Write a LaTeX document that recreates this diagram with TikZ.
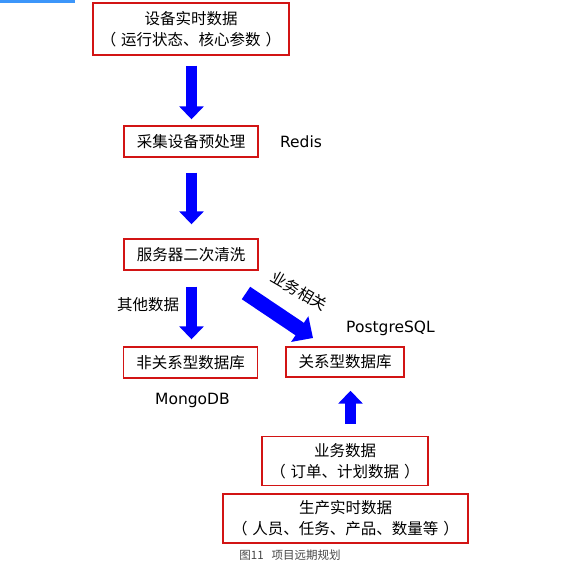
\documentclass[tikz,border=0pt]{standalone}
\usepackage{fontspec}
\setmainfont{Noto Sans CJK SC}
\newfontfamily\latinfont{DejaVu Sans}
\usetikzlibrary{arrows.meta,calc}
\definecolor{boxred}{RGB}{210,20,20}
\definecolor{topblue}{RGB}{60,150,250}
\definecolor{capgray}{RGB}{70,70,70}
\newcommand{\lpar}{（\hspace{5pt}}
\newcommand{\rpar}{\hspace{5pt}）}
\begin{document}
\begin{tikzpicture}[x=1pt,y=-1pt,
  box/.style={draw=boxred,line width=1.4pt,inner sep=0pt,align=center,
    font=\fontsize{15.5}{21}\selectfont},
  lbl/.style={inner sep=0pt,font=\fontsize{15.5}{18}\selectfont},
  latlbl/.style={inner sep=0pt,font=\fontsize{15.5}{18}\selectfont\latinfont},
  blockarrow/.style={draw=blue,line width=11pt,-{Triangle[width=24pt,length=13pt]}},
  bigarrow/.style={draw=blue,line width=15pt,-{Triangle[width=30pt,length=16pt]}}]
\useasboundingbox (0,0) rectangle (568,563);
\fill[topblue] (0,0) rectangle (75,3);
\node[box,minimum width=196pt,minimum height=52pt] (b1) at (191,29) {设备实时数据\\\lpar 运行状态、核心参数\rpar};
\node[box,minimum width=134pt,minimum height=31pt] (b2) at (191,141.5) {采集设备预处理};
\node[box,minimum width=134pt,minimum height=31pt] (b3) at (191,254.5) {服务器二次清洗};
\node[box,minimum width=134pt,minimum height=31pt] (b4) at (190.5,362.5) {非关系型数据库};
\node[box,minimum width=118pt,minimum height=30pt] (b5) at (345,362) {关系型数据库};
\node[box,minimum width=166pt,minimum height=49pt] (b6) at (345,461) {业务数据\\\lpar 订单、计划数据\rpar};
\node[box,minimum width=245pt,minimum height=49pt] (b7) at (345.5,518.5) {生产实时数据\\\lpar 人员、任务、产品、数量等\rpar};
\node[latlbl] (redis) at (301,142) {Redis};
\node[lbl] (other) at (148,305) {其他数据};
\node[lbl,rotate=-30] (biz) at (299,291) {业务相关};
\node[latlbl] (pg) at (390.5,328) {PostgreSQL};
\node[latlbl] (mongo) at (192.5,400) {MongoDB};
\node[inner sep=0pt,text=capgray,font=\fontsize{11.5}{13}\selectfont] (cap) at (290,555) {图11\hspace{8pt}项目远期规划};
\draw[blockarrow] ($(b1.south)+(0.5,10)$) -- ($(b2.north)+(0.5,-6)$);
\draw[blockarrow] ($(b2.south)+(0.5,15)$) -- ($(b3.north)+(0.5,-14)$);
\draw[blockarrow] ($(b3.south)+(0.5,16)$) -- ($(b4.north)+(1,-7)$);
\draw[blockarrow] ($(b6.north)+(5.5,-12)$) -- ($(b5.south)+(5.5,13)$);
\coordinate (dtail) at (246,293);
\coordinate (dtip) at (313,338);
\draw[bigarrow] (dtail) -- (dtip);
\end{tikzpicture}
\end{document}
